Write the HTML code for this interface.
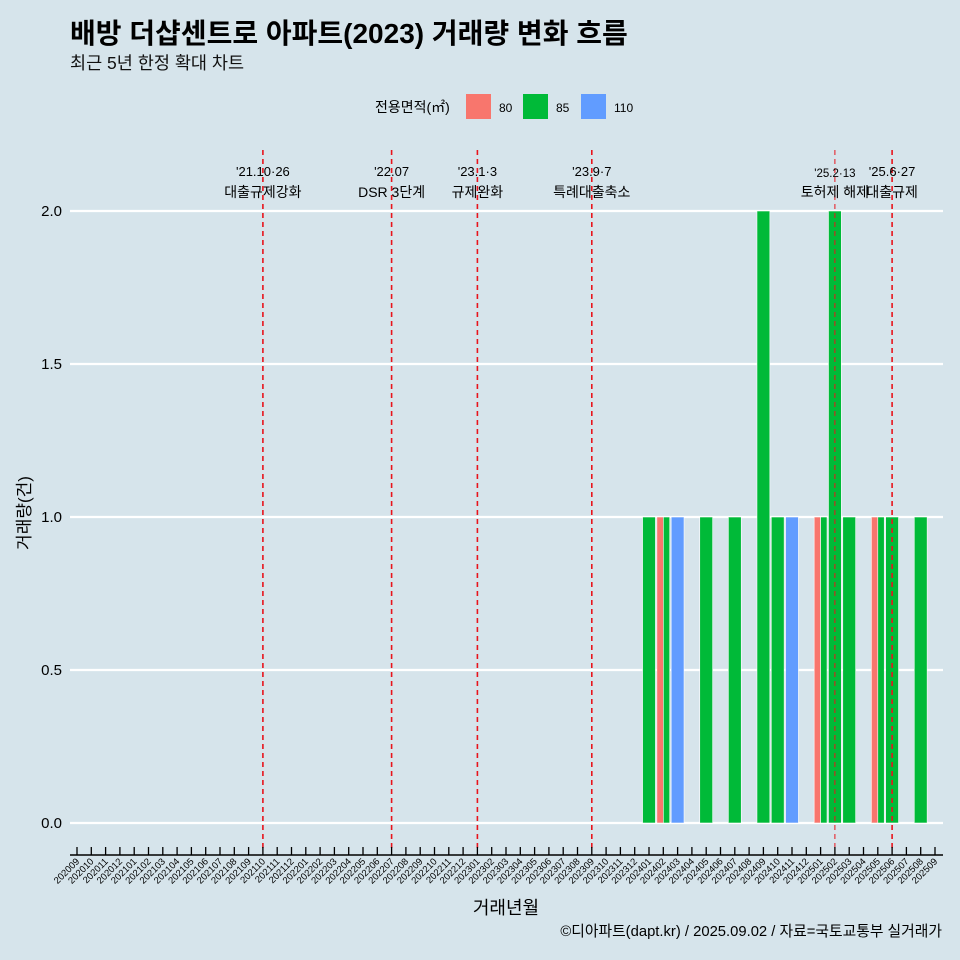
<!DOCTYPE html>
<html><head><meta charset="utf-8">
<style>
body{margin:0;background:#d6e4eb;}
svg{display:block;font-family:"Liberation Sans","Noto Sans CJK KR",sans-serif;}
</style></head>
<body>
<svg id="chart" width="960" height="960" viewBox="0 0 960 960">
<rect width="960" height="960" fill="#d6e4eb"/>
<text x="70" y="43" font-size="28" font-weight="bold" fill="#000">배방 더샵센트로 아파트(2023) 거래량 변화 흐름</text>
<text x="70" y="69" font-size="17.5" fill="#111">최근 5년 한정 확대 차트</text>
<g>
<text x="375" y="112" font-size="14">전용면적(㎡)</text>
<rect x="466" y="94" width="25" height="25" fill="#f8766d"/>
<text x="499" y="112" font-size="12">80</text>
<rect x="523" y="94" width="25" height="25" fill="#00ba38"/>
<text x="556" y="112" font-size="12">85</text>
<rect x="581" y="94" width="25" height="25" fill="#619cff"/>
<text x="614" y="112" font-size="12">110</text>
</g>
<g id="grid"></g><g id="bars"></g><g id="events"></g><g id="axes"></g>
<text x="20" y="503" font-size="17" transform="rotate(-90 30 503)" text-anchor="middle">거래량(건)</text>
<text x="506" y="914" font-size="18" text-anchor="middle">거래년월</text>
<text x="942" y="936" font-size="14.8" text-anchor="end">©디아파트(dapt.kr) / 2025.09.02 / 자료=국토교통부 실거래가</text>
</svg>
<script>
const months=[];
for(let y=2020,m=9;!(y===2025&&m===10);){months.push(''+y+(m<10?'0':'')+m);m++;if(m>12){m=1;y++;}}
const barMonths=['202401','202402','202402','202403','202405','202407','202409','202410','202411','202501','202501','202502','202503','202505','202505','202506','202508'];
const barGroups=['85','80','85','110','85','85','85','85','110','80','85','85','85','80','85','85','85'];
const barValues=[1,1,1,1,1,1,2,1,1,1,1,2,1,1,1,1,1];
const yTicks=[0,0.5,1.0,1.5,2.0];
const yTickLabels=['0.0','0.5','1.0','1.5','2.0'];
const eventMonths=['202110','202207','202301','202309','202502','202506'];
const eventDates=["'21.10·26","'22.07","'23.1·3","'23.9·7","'25.2·13","'25.6·27"];
const eventNames=['대출규제강화','DSR 3단계','규제완화','특례대출축소','토허제 해제','대출규제'];
const colors={'80':'#f8766d','85':'#00ba38','110':'#619cff'};
const NS='http://www.w3.org/2000/svg';
const x0=77,step=(935-77)/60,y0=823,yScale=(823-211)/2;
const xs=m=>x0+months.indexOf(m)*step;
const ys=v=>y0-v*yScale;
function el(t,a,p){const e=document.createElementNS(NS,t);for(const k in a)e.setAttribute(k,a[k]);document.getElementById(p).appendChild(e);return e;}
yTicks.forEach((v,i)=>{
 const l=el('line',{x1:70,x2:943,y1:ys(v),y2:ys(v),stroke:'#fff','stroke-width':2.2},'grid');
 
 
 const t=el('text',{x:62,y:ys(v)+5,'font-size':15,'text-anchor':'end'},'axes');t.textContent=yTickLabels[i];
 
 
});
const bw=step*0.9;
barMonths.forEach((m,i)=>{
 const idx=[];barMonths.forEach((mm,j)=>{if(mm===m)idx.push(j);});
 const n=idx.length,k=idx.indexOf(i),w=bw/n;
 const x=xs(m)-bw/2+k*w;
 const r=el('rect',{x:x,y:ys(barValues[i]),width:w,height:ys(0)-ys(barValues[i]),fill:colors[barGroups[i]],stroke:'#fff','stroke-width':0.6},'bars');
 
 
});
eventMonths.forEach((m,i)=>{
 const x=xs(m),thin=m==='202502';
 const l=el('line',{x1:x,x2:x,y1:150,y2:852,stroke:'#e8141c','stroke-width':thin?1:1.6,'stroke-dasharray':'5,4'},'events');
 
 
 const t1=el('text',{x:x,y:thin?177:176,'font-size':thin?11.5:13,'text-anchor':'middle'},'events');t1.textContent=eventDates[i];
 
 
 const t2=el('text',{x:x,y:197,'font-size':14,'text-anchor':'middle'},'events');t2.textContent=eventNames[i];
 
 
});
const ax=el('line',{x1:70,x2:943,y1:855,y2:855,stroke:'#000','stroke-width':1.5},'axes');


months.forEach(m=>{
 const x=xs(m);
 const tk=el('line',{x1:x,x2:x,y1:847,y2:855,stroke:'#000','stroke-width':1.3},'axes');
 
 
 const t=el('text',{x:x+3,y:862,'font-size':9.5,'text-anchor':'end',transform:'rotate(-45 '+(x+3)+' 862)'},'axes');t.textContent=m;
 
 
});
</script>
</body></html>
